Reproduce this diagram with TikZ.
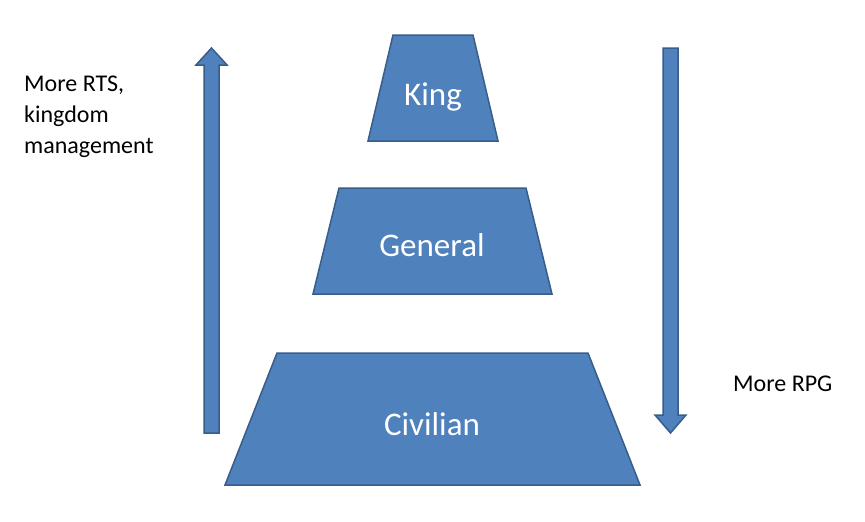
\documentclass[tikz,border=0pt]{standalone}
\usepackage{fontspec}
\setmainfont{Carlito}
\definecolor{fillb}{HTML}{4F81BD}
\definecolor{lineb}{HTML}{385D8A}
\begin{document}
\begin{tikzpicture}[x=1pt,y=-1pt,
  shp/.style={fill=fillb,draw=lineb,line width=1.5pt,line join=miter},
  inlabel/.style={text=white,font=\fontsize{33}{40}\selectfont},
  sidelabel/.style={font=\fontsize{24}{31}\selectfont,align=left,anchor=north west,inner sep=0pt}]
\useasboundingbox[fill=white] (0,0) rectangle (865,522);
\draw[shp] (393,35) -- (473,35) -- (498,141) -- (368,141) -- cycle;
\draw[shp] (339,188) -- (526,188) -- (552,294) -- (313,294) -- cycle;
\draw[shp] (277,353) -- (588,353) -- (640,485) -- (225,485) -- cycle;
\node[inlabel] (king) at (433,97) {King};
\node[inlabel] (general) at (432,245) {General};
\node[inlabel] (civilian) at (432,424) {Civilian};
\draw[shp] (204,433) -- (204,65) -- (196,65) -- (211.5,48) -- (227,65) -- (219,65) -- (219,433) -- cycle;
\draw[shp] (663,48) -- (663,415) -- (655,415) -- (670.5,433) -- (686,415) -- (678,415) -- (678,48) -- cycle;
\node[sidelabel] (rts) at (24,76) {More RTS,\\kingdom\\management};
\node[sidelabel] (rpg) at (733,376) {More RPG};
\end{tikzpicture}
\end{document}
